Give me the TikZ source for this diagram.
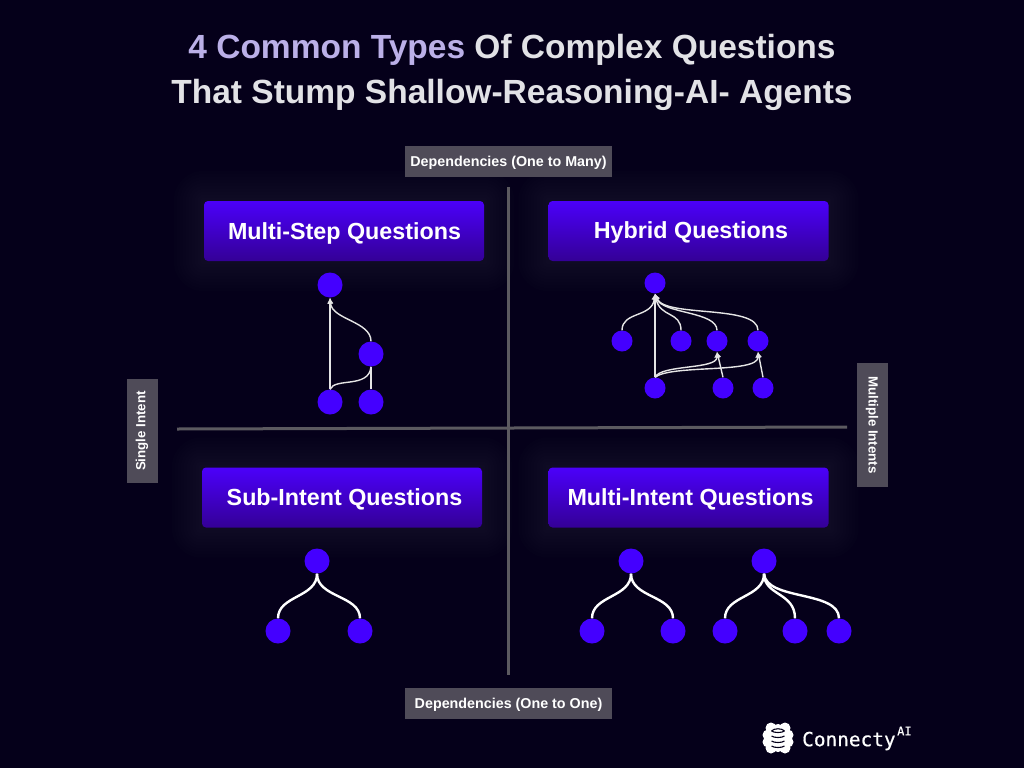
\documentclass[tikz,border=0pt]{standalone}
\usepackage{fontspec}
\setmainfont{Liberation Sans}
\newfontfamily\logofont[FakeBold=0.5]{DejaVu Sans Mono}
\usetikzlibrary{arrows.meta,backgrounds}
\definecolor{page}{RGB}{5,0,26}
\definecolor{dot}{RGB}{68,0,255}
\definecolor{boxtop}{RGB}{75,0,250}
\definecolor{boxbot}{RGB}{52,0,150}
\definecolor{tag}{RGB}{79,75,88}
\definecolor{axis}{RGB}{92,90,96}
\definecolor{lav}{RGB}{187,176,232}
\definecolor{pale}{RGB}{226,226,230}

\begin{document}
\begin{tikzpicture}[x=1pt, y=-1pt,
  q/.style={rounded corners=4pt, top color=boxtop, bottom color=boxbot, minimum width=280pt, minimum height=60pt, text=white, inner sep=0pt},
  qt/.style={text=white, font=\fontsize{23.3}{27}\selectfont\bfseries, inner sep=0pt},
  t/.style={fill=tag, text=white, font=\fontsize{14.3}{16}\selectfont\bfseries, inner sep=0pt, minimum height=31pt},
  ts/.style={t, font=\fontsize{13.3}{15}\selectfont\bfseries},
  d/.style={circle, fill=dot, minimum size=25pt, inner sep=0pt},
  ds/.style={circle, fill=dot, minimum size=21pt, inner sep=0pt},
  l/.style={draw=white!90!black, line width=1.4pt},
  a/.style={l, -{Latex[length=6pt,width=6pt]}},
  w/.style={draw=white, line width=2.4pt},
  ax/.style={draw=axis, line width=3pt},
  h/.style={font=\fontsize{33.5}{39}\selectfont\bfseries, text=pale}]
\useasboundingbox (0,0) rectangle (1024,768);
\begin{scope}[on background layer]
\fill[page] (0,0) rectangle (1024,768);
\end{scope}

% title
\node[h] (ttl1) at (512,49.5) {\textcolor{lav}{4 Common Types} Of Complex Questions};
\node[h] (ttl2) at (512,94.5) {That Stump Shallow-Reasoning-AI- Agents};

% axes
\coordinate (vtop) at (508,187); \coordinate (vbot) at (508,675);
\coordinate (hlft) at (177,429); \coordinate (hrgt) at (847,427);
\draw[ax] (vtop) -- (vbot);
\draw[ax] (hlft) -- (hrgt);
\node[t, minimum width=207pt, text depth=3pt, text height=13pt] (tagtop) at (508.5,161.5) {Dependencies (One to Many)};
\node[t, minimum width=207pt, text depth=3pt, text height=13pt] (tagbot) at (508.5,703.5) {Dependencies (One to One)};
\node[ts, minimum width=104pt, rotate=90] (taglft) at (142,431) {Single Intent};
\node[ts, minimum width=124pt, rotate=-90] (tagrgt) at (872,425) {Multiple Intents};

% quadrant titles
\node[q] (qstep) at (344,231) {};
\node[q] (qhyb) at (688.5,231) {};
\node[q] (qsub) at (342,497.5) {};
\node[q] (qmul) at (688.5,497.5) {};
\node[qt] (qstept) at (344.5,233) {Multi-Step Questions};
\node[qt] (qhybt) at (691,232) {Hybrid Questions};
\node[qt] (qsubt) at (344.5,499.5) {Sub-Intent Questions};
\node[qt] (qmult) at (690.5,499.5) {Multi-Intent Questions};
\begin{scope}[on background layer]
\foreach \n in {qstep,qhyb,qsub,qmul}
  \foreach \g in {3,6,...,30}
    \fill[white, opacity=.009, rounded corners=\g pt] ([shift={(-\g pt,\g pt)}]\n.north west) rectangle ([shift={(\g pt,-\g pt)}]\n.south east);
\end{scope}

% multi-step
\node[d] (s1) at (330,285) {};
\node[d] (s2) at (371,354) {};
\node[d] (s3) at (330,402) {};
\node[d] (s4) at (371,402) {};
\draw[a] (s3) -- (s1);
\draw[a] (s2.north) .. controls +(0,-20) and +(2,22) .. (s1.south);
\draw[l] (s3.north) .. controls +(5,-12) and +(-2,22) .. (s2.south);
\draw[l] (s4) -- (s2);

% hybrid
\node[ds] (h0) at (655,283) {};
\node[ds] (h1) at (622,341) {};
\node[ds] (h2) at (681,341) {};
\node[ds] (h3) at (717,341) {};
\node[ds] (h4) at (758,341) {};
\node[ds] (h5) at (655,388) {};
\node[ds] (h6) at (723,388) {};
\node[ds] (h7) at (763,388) {};
\draw[a] (h5) -- (h0);
\draw[a] (h1.north) .. controls +(0,-19) and +(-3,24) .. (h0.south);
\draw[a] (h2.north) .. controls +(0,-19) and +(5,24) .. (h0.south);
\draw[a] (h3.north) .. controls +(0,-19) and +(7,20) .. (h0.south);
\draw[a] (h4.north) .. controls +(0,-26) and +(10,24) .. (h0.south);
\draw[a] (h5.north) .. controls +(6,-13) and +(0,18) .. (h3.south);
\draw[a] (h5.north) .. controls +(16,-13) and +(0,22) .. (h4.south);
\draw[a] (h6.north) -- (h3.south);
\draw[a] (h7.north) -- (h4.south);

% sub-intent
\node[d] (i0) at (317,561) {};
\node[d] (i1) at (278,631) {};
\node[d] (i2) at (360,631) {};
\foreach \n in {i1,i2}
  \draw[w] (i0.south) .. controls +(0,24) and +(0,-23) .. (\n.north);

% multi-intent
\node[d] (m0) at (631,561) {};
\node[d] (m1) at (592,631) {};
\node[d] (m2) at (673,631) {};
\node[d] (n0) at (764,561) {};
\node[d] (n1) at (725,631) {};
\node[d] (n2) at (795,631) {};
\node[d] (n3) at (839,631) {};
\foreach \n in {m1,m2}
  \draw[w] (m0.south) .. controls +(0,24) and +(0,-23) .. (\n.north);
\draw[w] (n0.south) .. controls +(0,24) and +(0,-23) .. (n1.north);
\draw[w] (n0.south) .. controls +(0,22) and +(0,-26) .. (n2.north);
\draw[w] (n0.south) .. controls +(2,27) and +(0,-28) .. (n3.north);

% logo
\fill[white] (778,738) ellipse (9 and 14);
\foreach \p in {(771,728),(785,728),(771,748),(785,748),(768,735),(788,735),(768,742),(788,742)}
  \fill[white] \p circle (5.5);
\foreach \yy in {731,736,741,746}
  \draw[page, line width=1.1pt] (771.5,\yy) .. controls (774,\yy+2) and (782,\yy+2) .. (784.5,\yy);
\draw[page, line width=1.1pt] (771.5,731) .. controls (774,728) and (782,728) .. (784.5,731);
\node[font=\logofont\fontsize{19.4}{22}\selectfont, text=white, anchor=west, inner sep=0pt] (lgo) at (802,741) {Connecty};
\node[font=\logofont\fontsize{12}{14}\selectfont, text=white, anchor=west, inner sep=0pt] (lgoai) at (897,731) {AI};
\end{tikzpicture}
\end{document}
